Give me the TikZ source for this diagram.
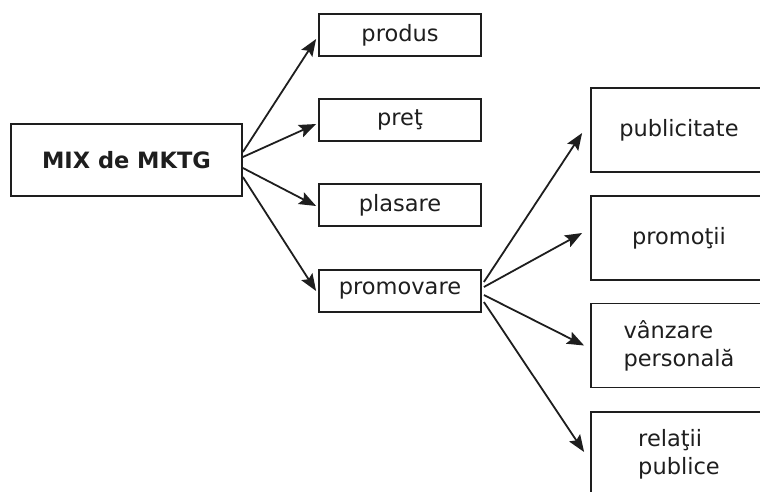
\documentclass[tikz,border=0pt]{standalone}
\usepackage{fontspec}
\setmainfont{DejaVu Sans}
\usetikzlibrary{arrows.meta}
\definecolor{ink}{HTML}{1E1E1E}
\begin{document}
\begin{tikzpicture}[x=1pt,y=-1pt,
  box/.style={draw=ink, text=ink, line width=1.8pt, inner sep=0pt, align=left,
    font=\fontsize{22.5}{28}\selectfont},
  smallbox/.style={box, minimum width=162pt, minimum height=42pt},
  bigbox/.style={box, minimum width=176pt, minimum height=84pt},
  arr/.style={draw=ink, line width=1.8pt, -{Stealth[length=17pt,width=13pt,inset=3pt]}}]
\useasboundingbox (0,0) rectangle (760,491);
\node[box, minimum width=231pt, minimum height=72pt,
  font=\fontsize{22.5}{28}\selectfont\bfseries] (mix) at (126.5,160) {MIX de MKTG};
\node[smallbox] (produs) at (400,35) {produs};
\node[smallbox] (pret) at (400,120) {preţ};
\node[smallbox] (plasare) at (400,205) {plasare};
\node[smallbox] (promovare) at (400,291) {promovare};
\node[bigbox] (pub) at (679,130) {publicitate};
\node[bigbox] (promo) at (679,238) {promoţii};
\node[bigbox] (vanz) at (679,345.5) {vânzare\\personală};
\node[bigbox] (rel) at (679,454) {relaţii\\publice};
\draw[arr] ([yshift=8pt]mix.east) -- ([xshift=-2pt,yshift=-4pt]produs.west);
\draw[arr] ([yshift=3pt]mix.east) -- ([xshift=-2pt,yshift=-4pt]pret.west);
\draw[arr] ([yshift=-8pt]mix.east) -- ([xshift=-2pt,yshift=-1pt]plasare.west);
\draw[arr] ([yshift=-17pt]mix.east) -- ([xshift=-2pt]promovare.west);
\draw[arr] ([xshift=2pt,yshift=9pt]promovare.east) -- ([xshift=-8pt,yshift=-3pt]pub.west);
\draw[arr] ([xshift=2pt,yshift=4pt]promovare.east) -- ([xshift=-8pt,yshift=5pt]promo.west);
\draw[arr] ([xshift=2pt,yshift=-4pt]promovare.east) -- ([xshift=-6pt]vanz.west);
\draw[arr] ([xshift=2pt,yshift=-11pt]promovare.east) -- ([xshift=-6pt,yshift=2pt]rel.west);
\end{tikzpicture}
\end{document}
